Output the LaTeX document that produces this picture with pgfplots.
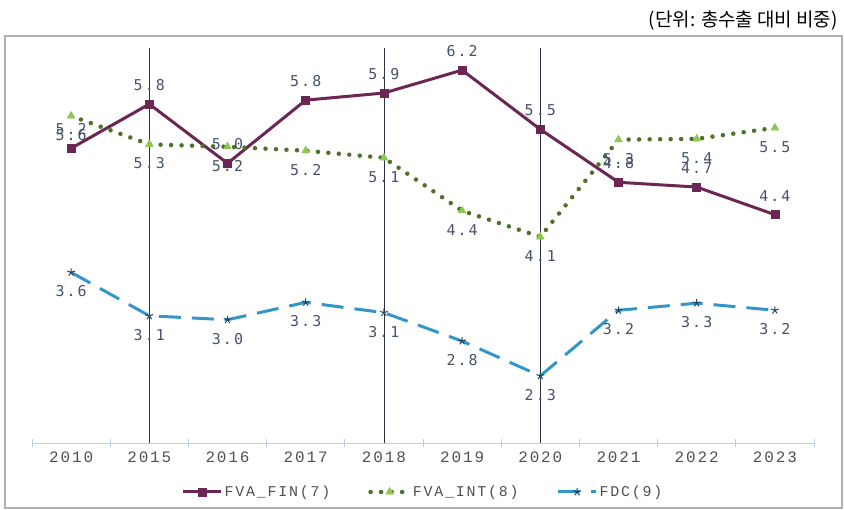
\documentclass[border=0pt]{standalone}
\usepackage{fontspec}
\usepackage{pgfplots}
\pgfplotsset{compat=1.18}
\newfontfamily\cjk{Noto Sans CJK KR}
\newfontfamily\monoserif[LetterSpace=12]{Liberation Mono}
\newfontfamily\monosans[LetterSpace=14]{DejaVu Sans Mono}
\definecolor{fin}{RGB}{107,38,84}
\definecolor{intl}{RGB}{78,112,40}
\definecolor{intm}{RGB}{140,200,80}
\definecolor{fdc}{RGB}{52,150,200}
\definecolor{fdcm}{RGB}{30,70,100}
\definecolor{lab}{RGB}{70,82,104}
\definecolor{vline}{RGB}{45,50,70}
\definecolor{xax}{RGB}{190,205,225}
\definecolor{frame}{RGB}{175,175,175}
\definecolor{tick}{RGB}{80,80,80}
\begin{document}
\begin{tikzpicture}
\path[use as bounding box] (0bp,0bp) rectangle (844bp,510bp);
\draw[frame, line width=1.2bp] (5bp,2bp) rectangle (842bp,474bp);
\node[anchor=east, inner sep=0pt] at (838bp,490bp) {\fontsize{19}{22}\selectfont\cjk (단위: 총수출 대비 비중)};
\begin{axis}[at={(32bp,67bp)}, anchor=south west, scale only axis,
  width=782bp, height=395bp,
  xmin=-0.5, xmax=9.5, ymin=1.5, ymax=6.5,
  axis y line=none, axis x line*=bottom,
  x axis line style={draw=xax, line width=1bp, -},
  xtick={0,...,9},
  xticklabels={2010,2015,2016,2017,2018,2019,2020,2021,2022,2023},
  major tick length=0pt,
  minor xtick={-0.5,0.5,...,9.5}, minor tick length=7bp, tick align=center,
  minor tick style={draw=xax, line width=1bp},
  xticklabel style={font=\fontsize{16}{18}\selectfont\monoserif, text=tick, yshift=-5bp},
  clip=false,
  legend columns=3,
  legend style={at={(0.5,-0.124)}, anchor=center, draw=none, fill=none,
    font=\fontsize{15}{17}\selectfont\monoserif, text=tick,
    /tikz/every even column/.append style={column sep=36bp}},
  legend cell align=left,
  legend image code/.code={\draw[mark repeat=2,mark phase=2,#1] plot coordinates {(0bp,0bp) (19bp,0bp) (38bp,0bp)};},
  point meta=explicit symbolic,
]
\addplot[vline, line width=0.8bp, forget plot] coordinates {(1,1.5) (1,6.5)};
\addplot[vline, line width=0.8bp, forget plot] coordinates {(4,1.5) (4,6.5)};
\addplot[vline, line width=0.8bp, forget plot] coordinates {(6,1.5) (6,6.5)};

\addplot[fin, line width=3bp, mark=square*, mark size=4bp, mark options={solid, fill=fin, line width=0.5bp},
  nodes near coords, every node near coord/.append style={anchor=center, yshift=19bp, font=\fontsize{15}{17}\selectfont\monosans, text=lab}]
  coordinates {(0,5.23)[5.2] (1,5.79)[5.8] (2,5.04)[5.0] (3,5.84)[5.8] (4,5.93)[5.9]
               (5,6.22)[6.2] (6,5.47)[5.5] (7,4.80)[4.8] (8,4.74)[4.7] (9,4.39)[4.4]};
\addlegendentry{FVA\_FIN(7)}

\addplot[intl, line width=4.5bp, line cap=round, dash pattern=on 0bp off 10.5bp,
  mark=triangle*, mark size=4.5bp, mark options={solid, fill=intm, draw=intm, line width=0.5bp},
  nodes near coords, every node near coord/.append style={anchor=center, yshift=-19bp, font=\fontsize{15}{17}\selectfont\monosans, text=lab}]
  coordinates {(0,5.64)[5.6] (1,5.28)[5.3] (2,5.25)[5.2] (3,5.20)[5.2] (4,5.11)[5.1]
               (5,4.44)[4.4] (6,4.11)[4.1] (7,5.34)[5.3] (8,5.35)[5.4] (9,5.49)[5.5]};
\addlegendentry{FVA\_INT(8)}

\addplot[fdc, line width=3bp, dash pattern=on 22bp off 11bp,
  mark=star, mark size=4bp, mark options={solid, draw=fdcm, line width=1bp},
  nodes near coords, every node near coord/.append style={anchor=center, yshift=-19bp, font=\fontsize{15}{17}\selectfont\monosans, text=lab}]
  coordinates {(0,3.66)[3.6] (1,3.11)[3.1] (2,3.06)[3.0] (3,3.28)[3.3] (4,3.15)[3.1]
               (5,2.79)[2.8] (6,2.35)[2.3] (7,3.18)[3.2] (8,3.27)[3.3] (9,3.18)[3.2]};
\addlegendentry{FDC(9)}
\end{axis}
\end{tikzpicture}
\end{document}
